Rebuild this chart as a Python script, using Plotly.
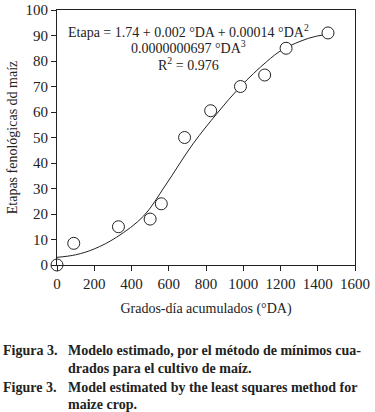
import plotly.graph_objects as go

# Observed data (accumulated degree-days vs phenological stage)
obs_gda = [0, 90, 330, 500, 560, 685, 825, 985, 1115, 1230, 1455]
obs_stage = [0, 8.5, 15, 18, 24, 50, 60.5, 70, 74.5, 85, 91]

# Fitted model curve
fit_gda = [0, 100, 200, 320, 465, 580, 730, 860, 985, 1125, 1210, 1350, 1450]
fit_stage = [3.0, 4.0, 6.3, 10.9, 19.2, 31.0, 47.5, 59.5, 70.0, 79.7, 84.4, 88.9, 90.5]

x_ticks = [0, 200, 400, 600, 800, 1000, 1200, 1400, 1600]
y_ticks = [0, 10, 20, 30, 40, 50, 60, 70, 80, 90, 100]

FONT = "Liberation Serif"

fig = go.Figure()
fig.add_trace(go.Scatter(
    x=fit_gda, y=fit_stage, mode="lines",
    line=dict(color="#222", width=1, shape="spline", smoothing=1.0),
    showlegend=False, hoverinfo="skip"))
fig.add_trace(go.Scatter(
    x=obs_gda, y=obs_stage, mode="markers",
    marker=dict(symbol="circle", size=12, color="white",
                line=dict(color="#222", width=1)),
    cliponaxis=False, showlegend=False))

fig.update_layout(
    width=375, height=412,
    margin=dict(l=57, r=20, t=10, b=147),
    plot_bgcolor="white", paper_bgcolor="white",
    font=dict(family=FONT, color="#222", size=14),
    xaxis=dict(range=[0, 1600], tickvals=x_ticks, ticks="outside", ticklen=5,
               tickcolor="#222", showline=True, linecolor="#222", linewidth=1,
               mirror=True, showgrid=False, zeroline=False, automargin=False,
               tickfont=dict(size=15),
               title=dict(text="Grados-día acumulados (°DA)", font=dict(size=14), standoff=12)),
    yaxis=dict(range=[0, 100], tickvals=y_ticks, ticks="outside", ticklen=5,
               tickcolor="#222", showline=True, linecolor="#222", linewidth=1,
               mirror=True, showgrid=False, zeroline=False, automargin=False,
               tickfont=dict(size=15),
               title=dict(text="Etapas fenológicas dd maíz", font=dict(size=14), standoff=4)),
)

eq_lines = [
    ("Etapa = 1.74 + 0.002 °DA + 0.00014 °DA<sup>2</sup>", 31),
    ("0.0000000697 °DA<sup>3</sup>", 47),
    ("R<sup>2</sup> = 0.976", 64),
]
for txt, ypx in eq_lines:
    fig.add_annotation(text=txt, xref="paper", yref="paper",
                       x=(188 - 57) / 298, y=1 - (ypx - 10) / 255,
                       xanchor="center", yanchor="middle", showarrow=False,
                       font=dict(family=FONT, size=14, color="#222"))

cap = [
    ("Figura 3.", "Modelo estimado, por el método de mínimos cua-", 350),
    ("", "drados para el cultivo de maíz.", 368),
    ("Figure 3.", "Model estimated by the least squares method for", 387),
    ("", "maize crop.", 404),
]
for lab, txt, ypx in cap:
    if lab:
        fig.add_annotation(text="<b>" + lab + "</b>", xref="paper", yref="paper",
                           x=(1 - 57) / 298, y=1 - (ypx - 10) / 255,
                           xanchor="left", yanchor="middle", showarrow=False,
                           font=dict(family=FONT, size=14, color="#222"))
    fig.add_annotation(text="<b>" + txt + "</b>", xref="paper", yref="paper",
                       x=(66 - 57) / 298, y=1 - (ypx - 10) / 255,
                       xanchor="left", yanchor="middle", showarrow=False,
                       font=dict(family=FONT, size=14, color="#222"))

fig.write_html("out.html", config={"displayModeBar": False},
               post_script="document.body.style.margin='0';document.body.style.overflow='hidden';")
